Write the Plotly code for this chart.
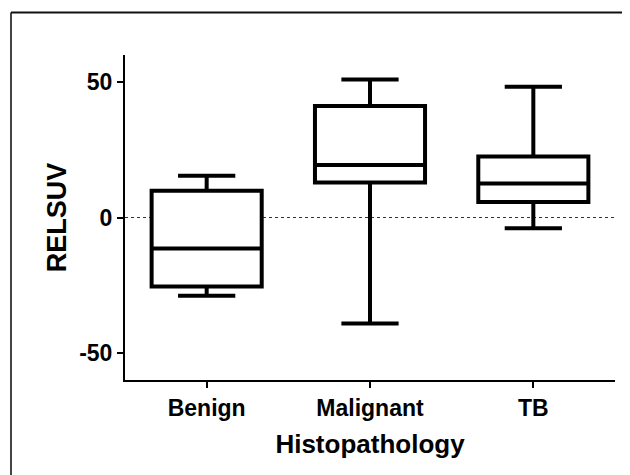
import plotly.graph_objects as go

categories = ["Benign", "Malignant", "TB"]
minimum = [-28.9, -39.1, -4.0]
q1 = [-25.5, 12.9, 5.7]
median = [-11.4, 19.4, 12.6]
q3 = [9.9, 41.2, 22.5]
maximum = [15.4, 51.0, 48.3]
y_ticks = [-50, 0, 50]
y_tick_labels = ["-50", "0", "50"]
x_title = "Histopathology"
y_title = "RELSUV"

FONT = "Liberation Sans, Arial, Helvetica, sans-serif"

# plot area in figure pixels (page has an 8px body offset)
L, T, R, B = 117, 47, 607, 372
W, H = 630, 475
PW, PH = R - L, B - T

fig = go.Figure(
    go.Box(
        x=categories,
        q1=q1,
        median=median,
        q3=q3,
        lowerfence=minimum,
        upperfence=maximum,
        fillcolor="white",
        line=dict(color="black", width=4),
        width=0.674,
        whiskerwidth=0.52,
        boxpoints=False,
        showlegend=False,
        hoverinfo="skip",
    )
)

axis_common = dict(
    showline=True,
    linewidth=2,
    linecolor="black",
    ticks="outside",
    ticklen=6,
    tickwidth=2,
    tickcolor="black",
    showgrid=False,
    zeroline=False,
    tickfont=dict(family=FONT, size=23, color="black", weight="bold"),
)

bx = (3 - L) / PW
by = (B - 4.5) / PH

fig.update_layout(
    width=W,
    height=H,
    margin=dict(l=L, r=W - R, t=T, b=H - B, autoexpand=False),
    paper_bgcolor="white",
    plot_bgcolor="white",
    font=dict(family=FONT, color="black"),
    xaxis=dict(
        range=[-0.5, 2.5],
        title=dict(text=x_title, font=dict(family=FONT, size=26, weight="bold"), standoff=15),
        **axis_common,
    ),
    yaxis=dict(
        range=[-60, 60],
        tickvals=y_ticks,
        ticktext=y_tick_labels,
        title=dict(text=y_title, font=dict(family=FONT, size=27, weight="bold"), standoff=5),
        **axis_common,
    ),
    shapes=[
        dict(type="line", xref="x domain", yref="y", x0=0, x1=1, y0=0, y1=0,
             line=dict(color="#333333", width=1, dash="dot"), layer="below"),
        dict(type="line", xref="paper", yref="paper",
             x0=bx, x1=bx, y0=by, y1=(B - 520) / PH,
             line=dict(color="#444444", width=2)),
        dict(type="line", xref="paper", yref="paper",
             x0=bx, x1=(660 - L) / PW, y0=by, y1=by,
             line=dict(color="#111111", width=2)),
    ],
)

fig.write_html("out.html")
